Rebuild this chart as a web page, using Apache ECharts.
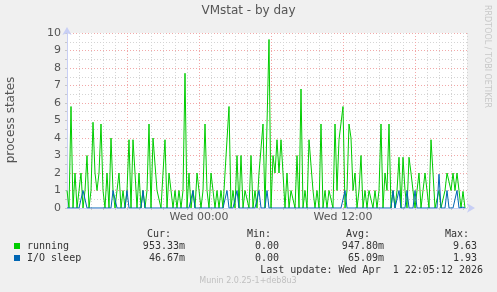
<!DOCTYPE html>
<html><head><meta charset="utf-8">
<script src="https://cdn.jsdelivr.net/npm/echarts@6/dist/echarts.min.js"></script>
<style>html,body{margin:0;padding:0;background:#f0f0f0;}#c{width:497px;height:292px;}</style>
</head><body><div id="c"></div>
<script>
// 10-minute samples starting Tue 12:55 (hours relative to Wed 00:00)
var startHour = -11;
var stepHour = 1/6;
var running = [
1,0,5.8,0,2,0,1,2,0,1, 3,0,1,4.9,2,1,2,4.8,1,0,
2,0,4,1,0,1,2,0,1,0, 1,3.9,0,3.9,2,0,2,0,1,0,
1,4.8,0,4,3.9,1,1,0,2,3.9, 0,2,1,0,1,0,1,0,1,7.7,
0,2,0,1,0,2,1,0,1,4.8, 1,0,2,1,0,1,0,1,0,2,
2,5.8,0,1,0,3,0,3,0,1, 1,0,3,0,1,0,2,2,4.8,0,
0,9.63,0,3,2,3.9,2,3.9,2,0, 2,0,1,1,0,3,0,6.8,0,1,
0,3.9,3.9,1,0,1,0,4.8,0,1, 0,1,1,0,4.8,1,3.9,3.9,5.8,0,
1,4.8,4,1,2,0,1,3,0,1, 0,1,1,0,1,0,1,4.8,0,2,
1,4.8,0,1,0,1,2.9,0,2.9,1, 0,2.9,2,2,0,1,2,0,1,2,
1,0,3.9,2,0,0,1,0,0,1, 2,2,1,2,1,2,1,0,0.95,0
];
var ioSleep = [
0,0,0,0,0,0,0,0,1,1, 0,0,0,0,0,0,0,0,0,0,
0,0,0,1,1,0,0,0,0,0, 1,0,0,0,0,0,0,0,1,0,
0,0,0,0,0,0,0,0,0,0, 0,0,0,0,0,0,0,0,0,0,
0,0,0,1,0,0,0,0,0,0, 0,0,0,0,0,0,0,0,0,0,
1,0,0,0,0,1,0,0,0,0, 0,0,0,0,0,0,1,0,0,0,
1,0,0,0,0,0,0,0,0,0, 0,0,0,0,0,0,0,0,0,0,
0,0,0,0,0,0,0,0,0,0, 0,0,0,0,0,0,0,0,0,1,
0,0,0,0,0,0,0,0,0,0, 0,0,0,0,0,0,0,0,0,0,
0,0,0,1,0,0,1,0,0,0, 1,0,0,0,1,0,0,0,0,0,
0,0,0,0,0,0,1.93,0,0,0, 1,0,0,0,0,1,0,0,0.05,0
];
var xLabels = {0: 'Wed 00:00', 12: 'Wed 12:00'};
var legendNames = ['running', 'I/O sleep'];
var legendColors = ['#00cc00', '#0066b3'];
var statHeads = ['Cur:', 'Min:', 'Avg:', 'Max:'];
var statRows = [
  ['953.33m', '0.00', '947.80m', '9.63'],
  ['46.67m', '0.00', '65.09m', '1.93']
];

function pairs(arr){ return arr.map(function(v,i){ return [startHour + i*stepHour, v]; }); }

var chart = echarts.init(document.getElementById('c'));
var mono = 'DejaVu Sans Mono';
var sans = 'DejaVu Sans';
var graphics = [
  {type:'text', left:'center', top:5, style:{text:'VMstat - by day', font:'12px '+sans, fill:'#555'}},
  {type:'text', x:11, y:120, rotation:Math.PI/2, style:{text:'process states', font:'12px '+sans, fill:'#555', textAlign:'center', textVerticalAlign:'middle'}},
  {type:'text', x:487, y:5, rotation:-Math.PI/2, style:{text:'RRDTOOL / TOBI OETIKER', font:'8px '+sans, fill:'#c8c8c8', textAlign:'left', textVerticalAlign:'middle'}},
  {type:'text', x:483, y:270, style:{text:'Last update: Wed Apr  1 22:05:12 2026', font:'10px '+mono, fill:'#333', textAlign:'right', textVerticalAlign:'middle'}},
  {type:'text', x:248, y:281, style:{text:'Munin 2.0.25-1+deb8u3', font:'8px '+sans, fill:'#c0c0c0', textAlign:'center', textVerticalAlign:'middle'}}
];
var headX = [171, 271, 370, 469];
var valX = [185, 279, 384, 477];
statHeads.forEach(function(h,i){
  graphics.push({type:'text', x:headX[i], y:234, style:{text:h, font:'10px '+mono, fill:'#333', textAlign:'right', textVerticalAlign:'middle'}});
});
legendNames.forEach(function(n,r){
  var y = 246 + r*12;
  graphics.push({type:'rect', shape:{x:14, y:y-3, width:6, height:6}, style:{fill:legendColors[r]}});
  graphics.push({type:'text', x:27, y:y, style:{text:n, font:'10px '+mono, fill:'#333', textAlign:'left', textVerticalAlign:'middle'}});
  statRows[r].forEach(function(v,i){
    graphics.push({type:'text', x:valX[i], y:y, style:{text:v, font:'10px '+mono, fill:'#333', textAlign:'right', textVerticalAlign:'middle'}});
  });
});

var gray = '#d4d4d4', red = '#f2a8a8';
chart.setOption({
  animation:false,
  backgroundColor:'#f0f0f0',
  grid:{left:67, top:33, width:400, height:175, backgroundColor:'#ffffff', show:true, borderWidth:0},
  xAxis:{type:'value', min:-11, max:-11+400/12, interval:1,
    axisLine:{show:true, onZero:false, lineStyle:{color:'#c8cff5', width:1}, symbol:['none','arrow'], symbolSize:[7,8], symbolOffset:[0,8]},
    axisTick:{show:true, length:2, lineStyle:{color:'#c8c8c8'}},
    axisLabel:{margin:4, fontFamily:sans, fontSize:11, color:'#555', showMinLabel:false, showMaxLabel:false,
      formatter:function(v){ var k=Math.round(v); return xLabels[k]!==undefined && Math.abs(v-k)<1e-6 ? xLabels[k] : ''; }},
    splitLine:{show:true, lineStyle:{type:[1,2], width:1, color:[gray,gray,gray,gray,gray,red]}}
  },
  yAxis:{type:'value', min:0, max:10, interval:0.5,
    axisLine:{show:true, onZero:false, lineStyle:{color:'#c8cff5'}, symbol:['none','arrow'], symbolSize:[7,8], symbolOffset:[0,6]},
    axisTick:{show:true, length:2, lineStyle:{color:'#c8c8c8'}},
    axisLabel:{margin:6, fontFamily:sans, fontSize:11, color:'#555',
      formatter:function(v){ return Math.abs(v-Math.round(v))<1e-6 ? String(Math.round(v)) : ''; }},
    splitLine:{show:true, lineStyle:{type:[1,2], width:1, color:[red,gray]}}
  },
  series:[
    {type:'line', name:'running', data:pairs(running), showSymbol:false, lineStyle:{color:'#00cc00', width:1}, z:3},
    {type:'line', name:'I/O sleep', data:pairs(ioSleep), showSymbol:false, lineStyle:{color:'#0066b3', width:1}, z:4}
  ],
  graphic:graphics
});
</script></body></html>
